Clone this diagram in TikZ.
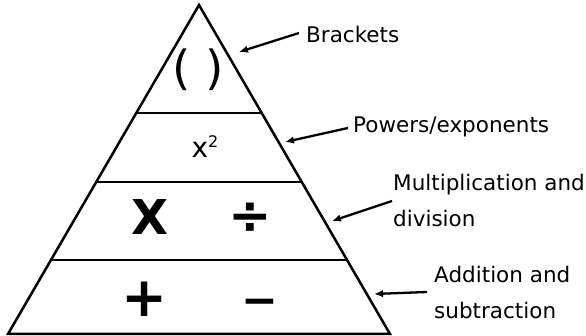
\documentclass[tikz,border=0pt]{standalone}
\usepackage{fontspec}
\setmainfont{DejaVu Sans}
\usetikzlibrary{arrows.meta,calc}
\tikzset{
  outline/.style={line width=2.5pt, line join=miter},
  band/.style={line width=2.5pt},
  pointer/.style={line width=2.3pt, -{Latex[length=9pt,width=7.5pt]}},
  lbl/.style={anchor=north west, inner sep=0pt, align=left, font=\fontsize{21.5}{36}\selectfont},
  sym/.style={anchor=base, inner sep=0pt}
}
\begin{document}
\begin{tikzpicture}[x=1pt,y=-1pt]
\useasboundingbox (0,0) rectangle (586,336);
\coordinate (apex) at (199,5);
\coordinate (bl) at (8,334);
\coordinate (br) at (390,334);
\draw[outline] (apex) -- (br) -- (bl) -- cycle;
\draw[band] ($(apex)!0.3283!(bl)$) -- ($(apex)!0.3283!(br)$);
\draw[band] ($(apex)!0.538!(bl)$) -- ($(apex)!0.538!(br)$);
\draw[band] ($(apex)!0.775!(bl)$) -- ($(apex)!0.775!(br)$);
% symbols
\node[sym, font=\fontsize{47}{47}\selectfont] (par) at (198,85) {( )};
\node[sym, font=\fontsize{28}{28}\selectfont] (pow) at (205,158) {x\raisebox{10pt}{\fontsize{16}{16}\selectfont 2}};
\node[sym, font=\bfseries\fontsize{48}{48}\selectfont] (mul) at (150,235) {X};
\node[sym, font=\bfseries\fontsize{52}{52}\selectfont] (div) at (250,234) {÷};
\node[sym, font=\bfseries\fontsize{55}{55}\selectfont] (add) at (145,317) {+};
\node[sym, font=\bfseries\fontsize{44}{44}\selectfont] (sub) at (260,316) {−};
% labels
\node[lbl] (lb) at (306,25.7) {Brackets};
\node[lbl] (lp) at (353,116.7) {Powers/exponents};
\node[lbl] (lm) at (393,173.7) {Multiplication and\\division};
\node[lbl] (la) at (434,265.7) {Addition and\\subtraction};
% arrows
\coordinate (tb) at (299,33);  \coordinate (hb) at (239,52);
\coordinate (tp) at (348,128); \coordinate (hp) at (285,142);
\coordinate (tm) at (392,201); \coordinate (hm) at (332,221);
\coordinate (ta) at (427,292); \coordinate (ha) at (374,294);
\draw[pointer] (tb) -- (hb);
\draw[pointer] (tp) -- (hp);
\draw[pointer] (tm) -- (hm);
\draw[pointer] (ta) -- (ha);
\end{tikzpicture}
\end{document}
